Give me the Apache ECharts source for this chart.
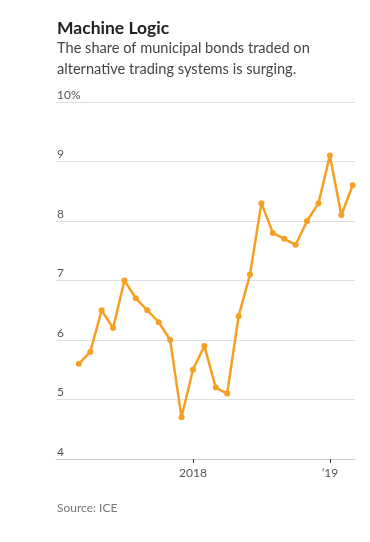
<!DOCTYPE html>
<html>
<head>
<meta charset="utf-8">
<script src="https://cdn.jsdelivr.net/npm/echarts@6/dist/echarts.min.js"></script>
<style>
html,body{margin:0;padding:0;background:#fff;}
#c{width:370px;height:542px;}
</style>
</head>
<body>
<div id="c"></div>
<script>
// Monthly, March 2017 - March 2019
var months = ["2017-03","2017-04","2017-05","2017-06","2017-07","2017-08","2017-09","2017-10","2017-11","2017-12",
              "2018-01","2018-02","2018-03","2018-04","2018-05","2018-06","2018-07","2018-08","2018-09","2018-10","2018-11","2018-12",
              "2019-01","2019-02","2019-03"];
var shareValues = [5.6,5.8,6.5,6.2,7.0,6.7,6.5,6.3,6.0,4.7,
                   5.5,5.9,5.2,5.1,6.4,7.1,8.3,7.8,7.7,7.6,8.0,8.3,
                   9.1,8.1,8.6];
var xTickMonths = ["2018-01","2019-01"];
var xTickLabels = ["2018","\u201919"];
var yTicks = [4,5,6,7,8,9,10];

var xTickPos = xTickMonths.map(function(m){return months.indexOf(m);});
var seriesData = shareValues.map(function(v,i){return [i,v];});

var chart = echarts.init(document.getElementById('c'), null, {renderer:'canvas'});
chart.setOption({
  animation:false,
  backgroundColor:'#fff',
  graphic:[
    {type:'text',left:57,top:19,style:{text:'Machine Logic',font:'bold 17.5px Lato',fill:'#222'}},
    {type:'text',left:57,top:38,style:{text:'The share of municipal bonds traded on\nalternative trading systems is surging.',font:'14.6px Lato',fill:'#444',lineHeight:21}},
    {type:'text',left:57,top:502,style:{text:'Source: ICE',font:'12px Lato',fill:'#777'}}
  ],
  grid:{left:56,right:15,top:102,height:357,containLabel:false},
  xAxis:{
    type:'value',min:-2,max:24.2,
    axisLine:{show:true,lineStyle:{color:'#ccc',width:1}},
    axisTick:{show:true,customValues:xTickPos,length:4,lineStyle:{color:'#333'}},
    axisLabel:{show:true,customValues:xTickPos,margin:8,color:'#555',fontFamily:'Lato',fontSize:12,
      formatter:function(v){var k=xTickPos.indexOf(v);return k>=0?xTickLabels[k]:'';}},
    splitLine:{show:false}
  },
  yAxis:{
    type:'value',min:4,max:10,interval:1,
    axisLine:{show:false},axisTick:{show:false},
    axisLabel:{inside:true,margin:1,verticalAlign:'bottom',align:'left',color:'#555',fontFamily:'Lato',fontSize:12,
      padding:[0,0,1,0],
      formatter:function(v){return v===10?'10%':String(v);}},
    splitLine:{show:true,lineStyle:{color:'#e0e0e0',width:1}}
  },
  series:[{
    type:'line',data:seriesData,
    lineStyle:{color:'#f5a023',width:2.5},
    itemStyle:{color:'#f5a023'},
    symbol:'circle',symbolSize:6,showSymbol:true
  }]
});
</script>
</body>
</html>
